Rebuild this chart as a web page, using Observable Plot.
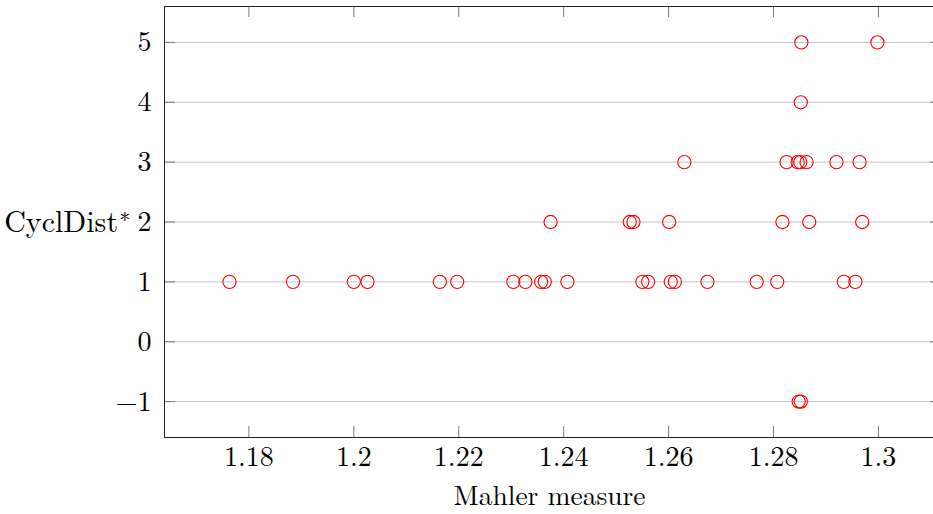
<!DOCTYPE html>
<html><head><meta charset="utf-8">
<script src="https://cdn.jsdelivr.net/npm/d3@7"></script>
<script src="https://cdn.jsdelivr.net/npm/@observablehq/plot@0.6"></script>
<style>html,body{margin:0;padding:0;background:#fff;overflow:hidden} svg{display:block}</style>
</head><body><div id="chart"></div>
<script>
// Data
const mahlerMeasure = [
  1.2853, 1.2998,
  1.2852,
  1.2630, 1.2825, 1.2846, 1.2851, 1.2863, 1.2920, 1.2964,
  1.2375, 1.2526, 1.2533, 1.2601, 1.2817, 1.2868, 1.2969,
  1.1763, 1.1884, 1.2000, 1.2026, 1.2164, 1.2197, 1.2304, 1.2327, 1.2357, 1.2364,
  1.2407, 1.2550, 1.2561, 1.2604, 1.2612, 1.2674, 1.2768, 1.2807, 1.2934, 1.2956,
  1.2848, 1.2852
];
const cyclDist = [
  5, 5,
  4,
  3, 3, 3, 3, 3, 3, 3,
  2, 2, 2, 2, 2, 2, 2,
  1, 1, 1, 1, 1, 1, 1, 1, 1, 1,
  1, 1, 1, 1, 1, 1, 1, 1, 1, 1,
  -1, -1
];
const xTicks = [1.18, 1.2, 1.22, 1.24, 1.26, 1.28, 1.3];
const xTickLabels = ["1.18", "1.2", "1.22", "1.24", "1.26", "1.28", "1.3"];
const yTicks = [-1, 0, 1, 2, 3, 4, 5];
const yTickLabels = ["\u22121", "0", "1", "2", "3", "4", "5"];
const xLabel = "Mahler measure";
const yLabel = "CyclDist";
const yLabelSup = "\u2217";

const points = mahlerMeasure.map((m, i) => ({m, c: cyclDist[i]}));

const W = 933, H = 514, mt = 6, mb = 77, ml = 164, mr = -11;
const fh = H - mt - mb, fw = W - ml - mr;
const tickLen = 11;
const font = "'Latin Modern Roman','CMU Serif','Liberation Serif','Times New Roman',serif";

const chart = Plot.plot({
  width: W, height: H,
  marginTop: mt, marginBottom: mb, marginLeft: ml, marginRight: mr,
  style: {fontFamily: font, fontSize: "28px", background: "white", overflow: "hidden"},
  x: {domain: [1.16391, 1.31259], axis: null},
  y: {domain: [-1.6, 5.6], axis: null},
  marks: [
    Plot.ruleY(yTicks, {y: d => d, stroke: "#c4c4c4", strokeWidth: 1}),
    Plot.ruleY(yTicks, {y: d => d, stroke: "#7a7a7a", insetRight: fw - tickLen}),
    Plot.ruleY(yTicks, {y: d => d, stroke: "#7a7a7a", insetLeft: fw - tickLen - 3}),
    Plot.ruleX(xTicks, {x: d => d, stroke: "#7a7a7a", insetTop: fh - tickLen}),
    Plot.ruleX(xTicks, {x: d => d, stroke: "#7a7a7a", insetBottom: fh - tickLen}),
    Plot.dot(points, {x: "m", y: "c", r: 6.6, stroke: "#ff0000", fill: "none", strokeWidth: 1.1}),
    Plot.frame({stroke: "#222", strokeWidth: 1}),
    Plot.text(xTicks, {x: d => d, text: (d, i) => xTickLabels[i], frameAnchor: "bottom", dy: 20, lineAnchor: "middle"}),
    Plot.text(yTicks, {y: d => d, text: (d, i) => yTickLabels[i], frameAnchor: "left", textAnchor: "end", dx: -13, lineAnchor: "middle"}),
    Plot.text([xLabel], {frameAnchor: "bottom", dx: -5, dy: 59, lineAnchor: "middle", fontSize: 27.5}),
    Plot.text([yLabel], {frameAnchor: "left", textAnchor: "end", dx: -34, lineAnchor: "middle", fontSize: 30})
  ]
});

d3.select(chart).selectAll("text").filter(function() { return this.textContent === yLabel; })
  .each(function() {
    const t = d3.select(this);
    const tt = t.select("tspan").empty() ? t : t.select("tspan");
    tt.append("tspan").attr("dx", "0.05em").attr("dy", "-0.42em").attr("font-size", "0.75em").text(yLabelSup);
  });

document.getElementById("chart").appendChild(chart);
</script>
</body></html>
